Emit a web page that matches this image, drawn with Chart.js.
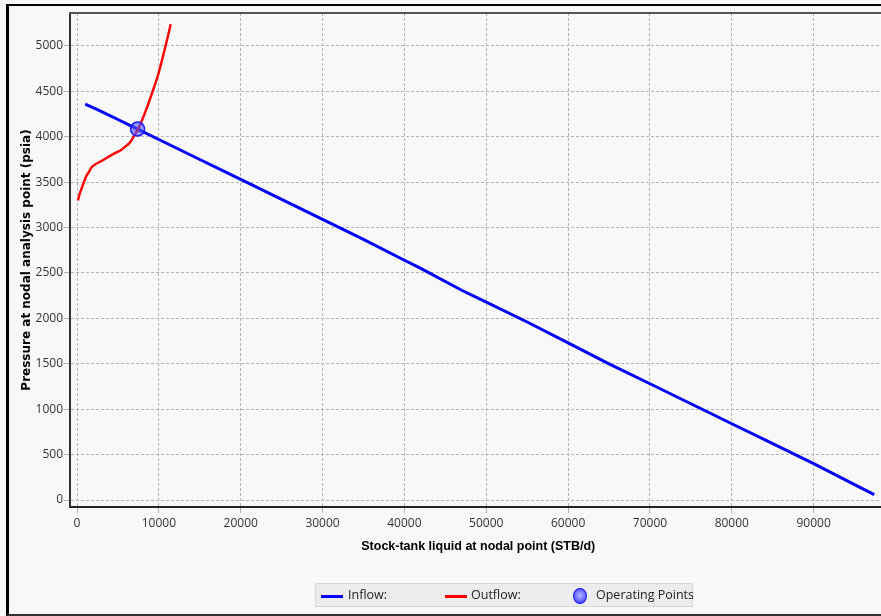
<!DOCTYPE html>
<html>
<head>
<meta charset="utf-8">
<script src="https://cdn.jsdelivr.net/npm/chart.js@4"></script>
<style>
  html, body { margin: 0; padding: 0; background: #f8f8f8; }
  #wrap { position: relative; width: 881px; height: 616px; overflow: hidden; background: #f8f8f8; }
  #frame { position: absolute; left: 6px; top: 4px; width: 900px; height: 608px;
           border-left: 3px solid #000; border-top: 2px solid #000; border-bottom: 2px solid #333; pointer-events: none; }
  canvas { position: absolute; left: 0; top: 0; }
  #legend { position: absolute; left: 315px; top: 583px; width: 376px; height: 22px;
            background: #ececec; border: 1px solid #d6d6d6; white-space: nowrap;
            font: 12.5px "Open Sans", sans-serif; color: #222; }
  #legend span { position: absolute; top: 2px; }
  #legend i { position: absolute; top: 11px; height: 3px; width: 22px; }
  #legend b { position: absolute; top: 4px; width: 12px; height: 14px; border-radius: 50%;
              border: 1px solid #1818ff; background: radial-gradient(circle at 50% 45%, #b8b8ff 0%, #6060ff 60%, #2a2aff 100%); }
</style>
</head>
<body>
<div id="wrap">
  <canvas id="nodalChart" width="895" height="616"></canvas>
  <div id="frame"></div>
  <div id="legend">
    <i style="left:5px;background:#0000ff"></i><span style="left:32px">Inflow:</span>
    <i style="left:129px;background:#ff0000"></i><span style="left:155px">Outflow:</span>
    <b style="left:257px"></b><span style="left:280px">Operating Points</span>
  </div>
</div>
<script>
// Nodal analysis chart: inflow vs outflow
const inflowRate = [1000, 2500, 5000, 7400, 10000, 15000, 20000, 25000, 30000, 35000, 40000, 42000, 47000, 50000, 55000, 60000, 65000, 70000, 75000, 80000, 85000, 90000, 95000, 97400];
const inflowPres = [4360, 4300, 4190, 4085, 3970, 3750, 3530, 3310, 3090, 2870, 2640, 2550, 2310, 2180, 1960, 1730, 1500, 1280, 1060, 840, 620, 400, 170, 60];

const outflowRate = [120, 350, 600, 1100, 1500, 1830, 2300, 2810, 3500, 4040, 4650, 5300, 5870, 6400, 6850, 7300, 7700, 8500, 9300, 9900, 10390, 10900, 11450];
const outflowPres = [3300, 3380, 3440, 3560, 3620, 3670, 3700, 3725, 3760, 3790, 3820, 3850, 3890, 3930, 3990, 4060, 4130, 4310, 4515, 4680, 4845, 5030, 5240];

const opRate = [7400];
const opPres = [4085];

const xTicks = [0, 10000, 20000, 30000, 40000, 50000, 60000, 70000, 80000, 90000];
const yTicks = [0, 500, 1000, 1500, 2000, 2500, 3000, 3500, 4000, 4500, 5000];

const toXY = (xs, ys) => xs.map((x, i) => ({ x: x, y: ys[i] }));

const topBorder = {
    id: 'topBorder',
    afterDraw(chart) {
        const c = chart.ctx, a = chart.chartArea;
        c.save();
        c.strokeStyle = '#555';
        c.lineWidth = 2;
        c.beginPath();
        c.moveTo(a.left - 1, a.top);
        c.lineTo(a.right + 5, a.top);
        c.stroke();
        c.restore();
    }
};

const gridStyle = {
    color: '#b4b4b4',
    lineWidth: 1,
    tickLength: 6,
    tickColor: '#b4b4b4'
};

const ctx = document.getElementById('nodalChart').getContext('2d');
const nodalChart = new Chart(ctx, {
    type: 'scatter',
    data: {
        datasets: [{
            label: 'Operating Points',
            data: toXY(opRate, opPres),
            pointRadius: 7,
            pointBackgroundColor: 'rgba(80,80,255,0.6)',
            pointBorderColor: '#1a1aff',
            pointBorderWidth: 1.5,
            order: 0
        }, {
            label: 'Inflow:',
            data: toXY(inflowRate, inflowPres),
            showLine: true,
            borderColor: '#0000ff',
            borderWidth: 3,
            pointRadius: 0,
            tension: 0,
            order: 2
        }, {
            label: 'Outflow:',
            data: toXY(outflowRate, outflowPres),
            showLine: true,
            borderColor: '#ff0000',
            borderWidth: 2.4,
            pointRadius: 0,
            tension: 0.3,
            order: 1
        }]
    },
    options: {
        responsive: false,
        animation: false,
        layout: { padding: { left: 20, top: 13, right: 0, bottom: 62 } },
        plugins: { legend: { display: false }, tooltip: { enabled: false } },
        scales: {
            x: {
                type: 'linear',
                min: -856,
                max: 98900,
                afterBuildTicks: s => { s.ticks = xTicks.map(v => ({ value: v })); },
                afterFit: s => { s.height = 47; },
                grid: Object.assign({}, gridStyle),
                border: { color: '#222', width: 2, dash: [3, 2] },
                ticks: { color: '#333', font: { family: 'Open Sans', size: 12 }, padding: 3, maxRotation: 0, autoSkip: false, callback: v => String(v) },
                title: { display: true, text: 'Stock-tank liquid at nodal point (STB/d)', color: '#000', font: { family: 'Liberation Sans', size: 12.5, weight: 'bold' }, padding: 0 }
            },
            y: {
                type: 'linear',
                min: -77,
                max: 5363,
                afterBuildTicks: s => { s.ticks = yTicks.map(v => ({ value: v })); },
                afterFit: s => { s.width = 50; },
                grid: Object.assign({}, gridStyle),
                border: { color: '#333', width: 2, dash: [3, 2] },
                ticks: { color: '#333', font: { family: 'Open Sans', size: 12 }, padding: 1, autoSkip: false, callback: v => String(v) },
                title: { display: true, text: 'Pressure at nodal analysis point (psia)', color: '#000', font: { family: 'DejaVu Sans', size: 12, weight: 'bold' }, padding: 0 }
            }
        }
    },
    plugins: [topBorder]
});
</script>
</body>
</html>
